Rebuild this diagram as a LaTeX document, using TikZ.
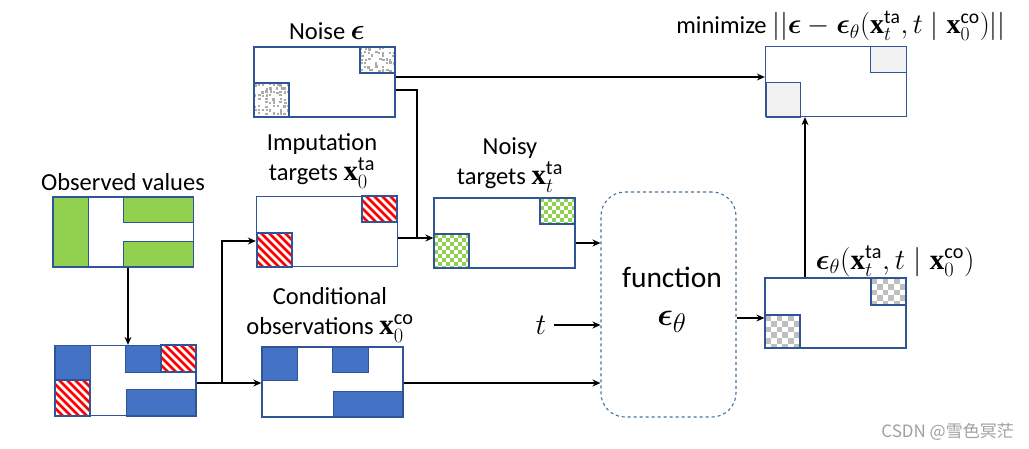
\documentclass[tikz,border=0pt]{standalone}
\usepackage{amsmath}
\usepackage{bm}
\usepackage{graphicx}
\usepackage{fontspec}
\setmainfont{Carlito}
\newfontfamily\cjk{Noto Sans CJK SC}
\newfontfamily\serifb{Liberation Serif}
\usetikzlibrary{arrows.meta,calc}
\definecolor{boxc}{HTML}{2F5597}
\definecolor{bluef}{HTML}{4472C4}
\definecolor{greenf}{HTML}{92D050}
\definecolor{chkgray}{HTML}{BFBFBF}
\definecolor{lgray}{HTML}{F2F2F2}
\definecolor{funcc}{HTML}{41719C}
\definecolor{noisec}{HTML}{ABABAB}
\newcommand\mth[1]{\scalebox{1.18}{$#1$}}
\newcommand\xb{\text{\serifb\bfseries x}}
\newcommand\hatchp[4]{%
  \begin{scope}\clip (#1,#2) rectangle (#3,#4);
    \fill[white] (#1,#2) rectangle (#3,#4);
    \foreach \k in {-56,-48,...,48}{\draw[red, line width=2.6pt] ({#1+\k},{#2-4}) -- ++(60,60);}
  \end{scope}
  \draw[boxc,line width=1.1pt] (#1,#2) rectangle (#3,#4);}
\newcommand\checkp[6]{%
  \begin{scope}\clip (#1,#2) rectangle (#3,#4);
    \fill[white] (#1,#2) rectangle (#3,#4);
    \foreach \i in {0,...,11}{\foreach \j in {0,...,11}{%
      \pgfmathtruncatemacro\cpar{mod(\i+\j,2)}%
      \ifnum\cpar=0 \fill[#5] ({#1+\i*#6},{#2+\j*#6}) rectangle ++(#6,#6);\fi}}
  \end{scope}
  \draw[boxc,line width=1.1pt] (#1,#2) rectangle (#3,#4);}
\newcommand\noisep[4]{%
  \begin{scope}\clip (#1,#2) rectangle (#3,#4);
    \fill[white] (#1,#2) rectangle (#3,#4);
    \foreach \i in {0,...,10}{\foreach \j in {0,...,10}{%
      \pgfmathtruncatemacro\on{rnd>0.3}%
      \pgfmathsetmacro\ox{rnd*1.4}\pgfmathsetmacro\oy{rnd*1.4}%
      \ifnum\on=1 \fill[noisec] ({#1+\i*3.6+\ox},{#2+\j*3.6+\oy}) rectangle ++(2.3,2.3);\fi}}
  \end{scope}
  \draw[boxc,line width=1.1pt] (#1,#2) rectangle (#3,#4);}
\tikzset{
  box/.style={draw=boxc, line width=1.3pt, minimum width=141pt, minimum height=70pt, inner sep=0pt},
  arr/.style={draw=black, line width=1.2pt, -{Stealth[length=8pt,width=7pt]}},
  ln/.style={draw=black, line width=1.2pt},
  lbl/.style={font=\fontsize{24.5}{30}\selectfont, inner sep=0pt, align=center},
}
\begin{document}
\begin{tikzpicture}[x=1pt,y=-1pt]
\useasboundingbox (0,0) rectangle (1029,448);
\pgfmathsetseed{7}
% observed values
\fill[greenf, draw=boxc, line width=1pt] (53,197) rectangle (88,267);
\fill[greenf, draw=boxc, line width=1pt] (123,197) rectangle (193,222);
\fill[greenf, draw=boxc, line width=1pt] (123,241) rectangle (193,267);
\node[box] (obs) at (123,232) {};
\node[lbl] (obsl) at (123,182) {Observed values};
% masked
\fill[bluef, draw=boxc, line width=1pt] (55,345) rectangle (90,380);
\hatchp{55}{380}{90}{416}
\fill[bluef, draw=boxc, line width=1pt] (125,345) rectangle (161,372);
\hatchp{161}{345}{196}{372}
\fill[bluef, draw=boxc, line width=1pt] (126,389) rectangle (196,416);
\node[box] (mask) at (125.5,380.5) {};
% noise
\noisep{360}{47}{395}{73}
\noisep{254}{83}{289}{117}
\node[box] (noise) at (324.5,82) {};
\node[lbl] (noisel) at (327,31) {Noise \mth{\bm{\epsilon}}};
% imputation targets
\hatchp{362}{196}{397}{222}
\hatchp{257}{233}{292}{267}
\node[box] (imp) at (327,231.5) {};
\node[lbl] (impl) at (322,161) {Imputation\\targets \mth{\xb_0^{\mathrm{ta}}}};
% conditional observations
\fill[bluef, draw=boxc, line width=1pt] (262,347) rectangle (297,380);
\fill[bluef, draw=boxc, line width=1pt] (332,347) rectangle (368,372);
\fill[bluef, draw=boxc, line width=1pt] (333,391) rectangle (403,417);
\node[box] (cond) at (332.5,382) {};
\node[lbl] (condl) at (330,315) {Conditional\\observations \mth{\xb_0^{\mathrm{co}}}};
% noisy targets
\checkp{540}{198}{575}{224}{greenf}{4}
\checkp{434}{234}{469}{268}{greenf}{4}
\node[box] (noisy) at (504.5,233) {};
\node[lbl] (noisyl) at (510,165) {Noisy\\targets \mth{\xb_t^{\mathrm{ta}}}};
% function
\node[draw=funcc, dashed, line width=1.1pt, rounded corners=24pt, minimum width=135pt, minimum height=225pt, inner sep=0pt] (func) at (668.5,304.5) {};
\node[font=\fontsize{29.5}{38}\selectfont, inner sep=0pt, align=center] (funcl) at (672,300) {function\\\scalebox{1.3}{$\bm{\epsilon}_\theta$}};
\node[font=\fontsize{24.5}{30}\selectfont, inner sep=0pt] (t) at (541,325) {\scalebox{1.2}{$t$}};
% output
\checkp{871}{278}{906}{305}{chkgray}{5.8}
\checkp{765}{315}{800}{348}{chkgray}{5.8}
\node[box] (out) at (835.5,313) {};
\node[lbl] (outl) at (895,261) {\mth{\bm{\epsilon}_\theta(\xb_t^{\mathrm{ta}}, t \mid \xb_0^{\mathrm{co}})}};
% minimize
\fill[lgray, draw=boxc, line width=1pt] (870,46) rectangle (906,72);
\fill[lgray, draw=boxc, line width=1pt] (766,82) rectangle (800,117);
\node[box] (minb) at (836,81.5) {};
\node[lbl] (minl) at (841,26) {minimize \scalebox{1.14}{$||\bm{\epsilon} - \bm{\epsilon}_\theta(\xb_t^{\mathrm{ta}}, t \mid \xb_0^{\mathrm{co}})||$}};
% connectors
\draw[arr] ([xshift=5pt]obs.south) -- ([xshift=5pt]obs.south |- mask.north);
\coordinate (b1) at (222,383);
\draw[ln] ([yshift=-2.5pt]mask.east) -- (b1);
\draw[arr] (b1) -- (b1 -| cond.west);
\draw[arr] (b1) |- ([yshift=-9.5pt]imp.west);
\draw[arr] ([yshift=5pt]noise.east) -- ([yshift=5pt]noise.east -| minb.west);
\coordinate (j) at (417,238);
\draw[ln] ([yshift=-8pt]noise.east) -| (j);
\draw[ln] ([yshift=-6.5pt]imp.east) -- (j);
\draw[arr] (j) -- (j -| noisy.west);
\draw[arr] ([yshift=-10pt]noisy.east) -- ([yshift=-10pt]noisy.east -| func.west);
\draw[arr] (t.east) ++(8,0) -- (t.east -| func.west);
\draw[arr] ([yshift=-1pt]cond.east) -- ([yshift=-1pt]cond.east -| func.west);
\draw[arr] ([yshift=-5pt]out.west -| func.east) -- ([yshift=-5pt]out.west);
\draw[arr] ([xshift=-30.5pt]out.north) -- ([xshift=-30.5pt]out.north |- minb.south);
% watermark
\node[font=\cjk\fontsize{17}{20}\selectfont, text=gray!75, inner sep=0pt, anchor=east] (wm) at (1014,432) {CSDN @雪色冥茫};
\end{tikzpicture}
\end{document}
